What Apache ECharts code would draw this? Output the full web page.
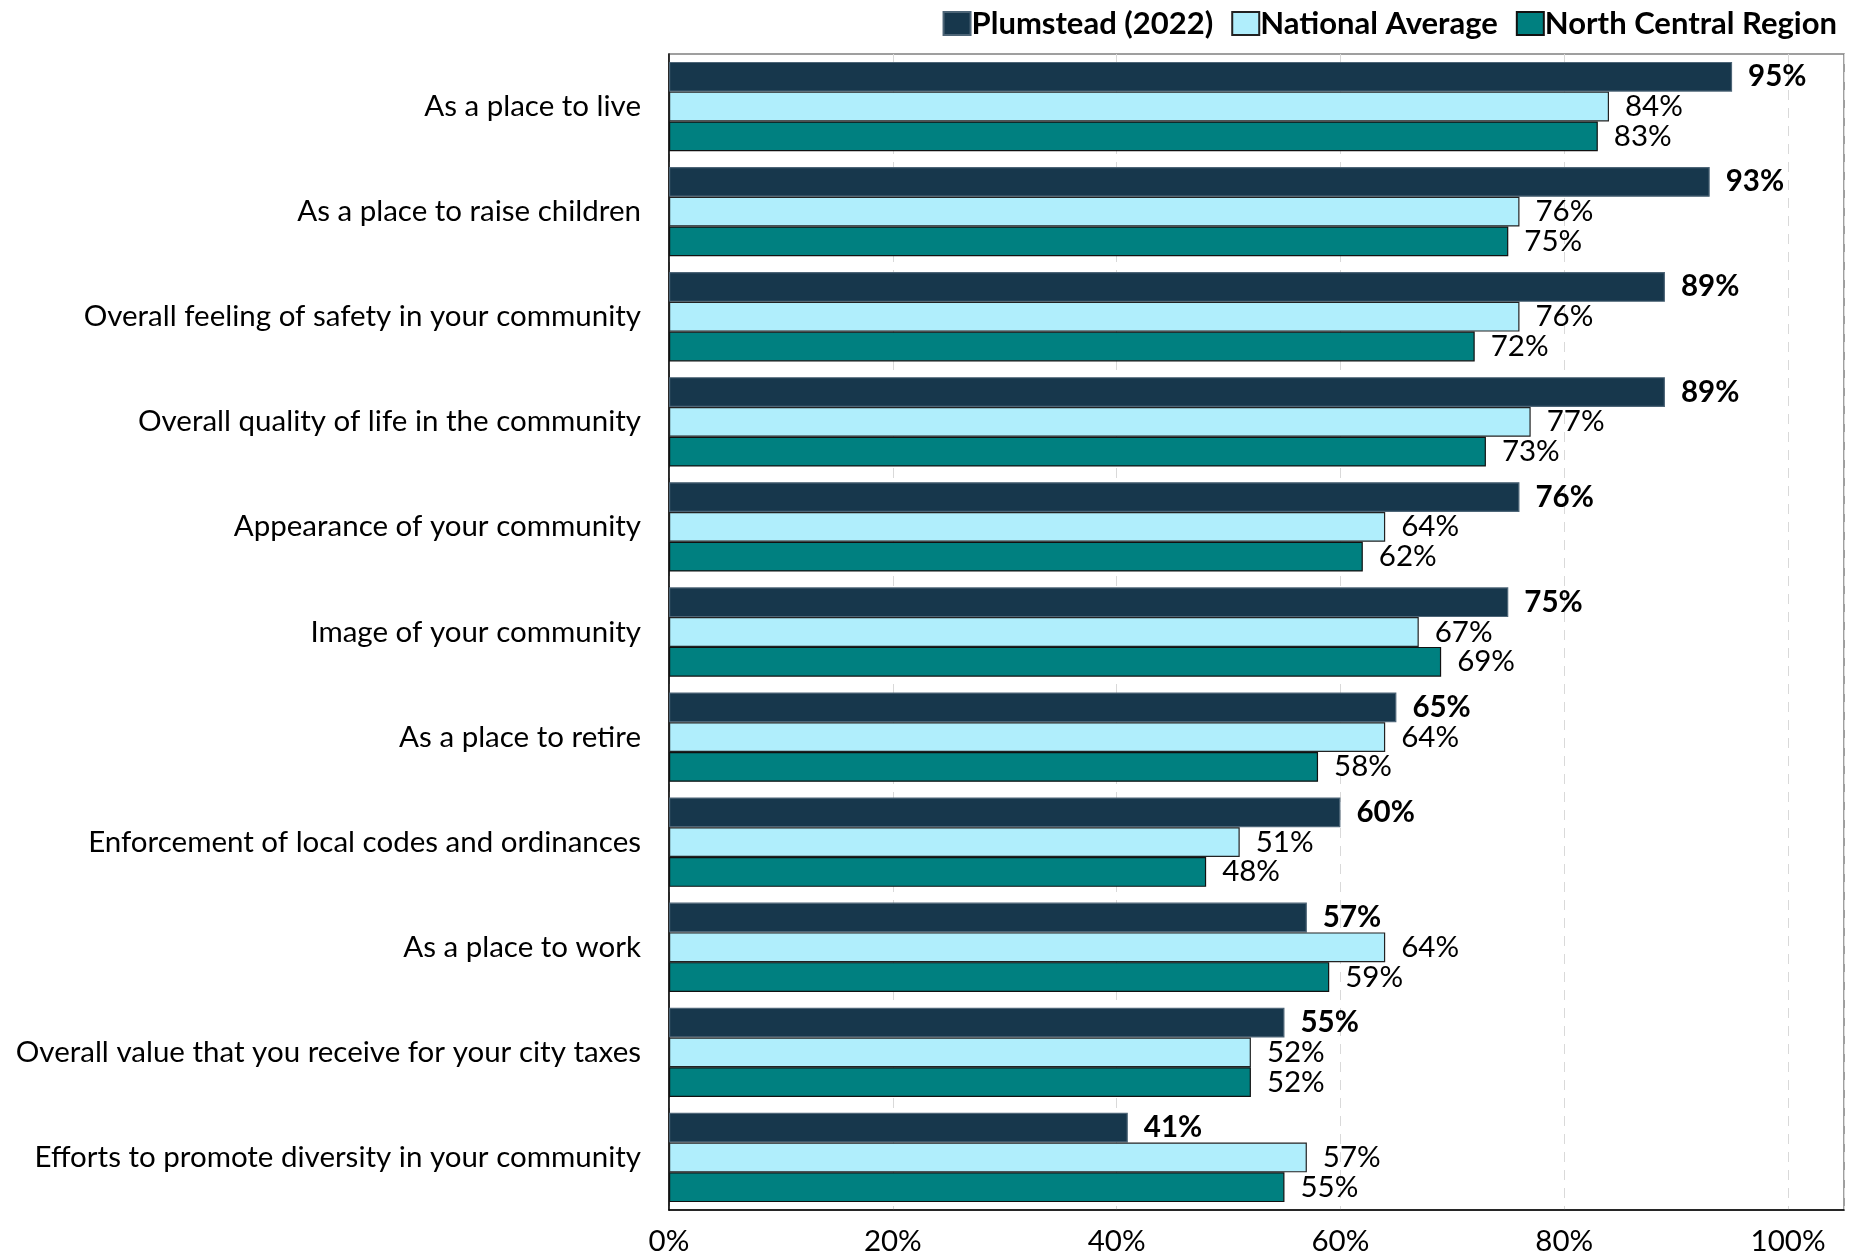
<!DOCTYPE html>
<html><head><meta charset="utf-8">
<script src="https://cdn.jsdelivr.net/npm/echarts@6/dist/echarts.min.js"></script>
<style>html,body{margin:0;padding:0;background:#fff}#c{width:1856px;height:1256px}</style>
</head><body><div id="c"></div>
<script>
var categories = [
  "As a place to live",
  "As a place to raise children",
  "Overall feeling of safety in your community",
  "Overall quality of life in the community",
  "Appearance of your community",
  "Image of your community",
  "As a place to retire",
  "Enforcement of local codes and ordinances",
  "As a place to work",
  "Overall value that you receive for your city taxes",
  "Efforts to promote diversity in your community"
];
var plumstead = [95, 93, 89, 89, 76, 75, 65, 60, 57, 55, 41];
var national = [84, 76, 76, 77, 64, 67, 64, 51, 64, 52, 57];
var northCentral = [83, 75, 72, 73, 62, 69, 58, 48, 59, 52, 55];
var seriesNames = ["Plumstead (2022)", "National Average", "North Central Region"];
var tickValues = [0, 20, 40, 60, 80, 100];

var FONT = "Lato";
var FS = 29.5;
var chart = echarts.init(document.getElementById('c'), null, {renderer: 'canvas'});
function mk(name, data, color, border, bold) {
  return {
    name: name, type: 'bar', data: data,
    barGap: '0%', barCategoryGap: '15%',
    itemStyle: {color: color, borderColor: border, borderWidth: 1.2},
    label: {show: true, position: 'right', distance: 16, formatter: '{c}%',
      fontFamily: FONT, fontSize: FS, color: '#000', fontWeight: bold ? 'bold' : 'normal'}
  };
}
chart.setOption({
  animation: false,
  textStyle: {fontFamily: FONT},
  legend: {
    top: 3, right: 14, itemWidth: 27, itemHeight: 23, itemGap: 18,
    textStyle: {fontFamily: FONT, fontSize: 31, fontWeight: 'bold', color: '#000', padding: [0,0,0,-4]},
    data: seriesNames.map(function(n){return {name: n, icon: 'rect'};})
  },
  grid: {left: 669, right: 12, top: 54, bottom: 46, show: true, borderColor: '#808080', borderWidth: 1.5},
  xAxis: {
    type: 'value', min: 0, max: 105, interval: 20,
    axisLine: {show: true, lineStyle: {color: '#000', width: 1.5}},
    axisTick: {show: false},
    splitLine: {show: true, lineStyle: {color: '#d9d9d9', type: [10, 8], width: 1}},
    axisLabel: {margin: 16, fontFamily: FONT, fontSize: FS, color: '#000',
      formatter: function(v){ return tickValues.indexOf(v) >= 0 ? v + '%' : ''; }}
  },
  yAxis: {
    type: 'category', data: categories, inverse: true,
    axisLine: {show: true, lineStyle: {color: '#000', width: 1.5}},
    axisTick: {show: false},
    axisLabel: {margin: 28, fontFamily: FONT, fontSize: FS, color: '#000'}
  },
  series: [
    mk(seriesNames[0], plumstead, '#17374C', '#4d6577', true),
    mk(seriesNames[1], national, '#B0EEFC', '#222', false),
    mk(seriesNames[2], northCentral, '#008080', '#111', false)
  ]
});
</script></body></html>
